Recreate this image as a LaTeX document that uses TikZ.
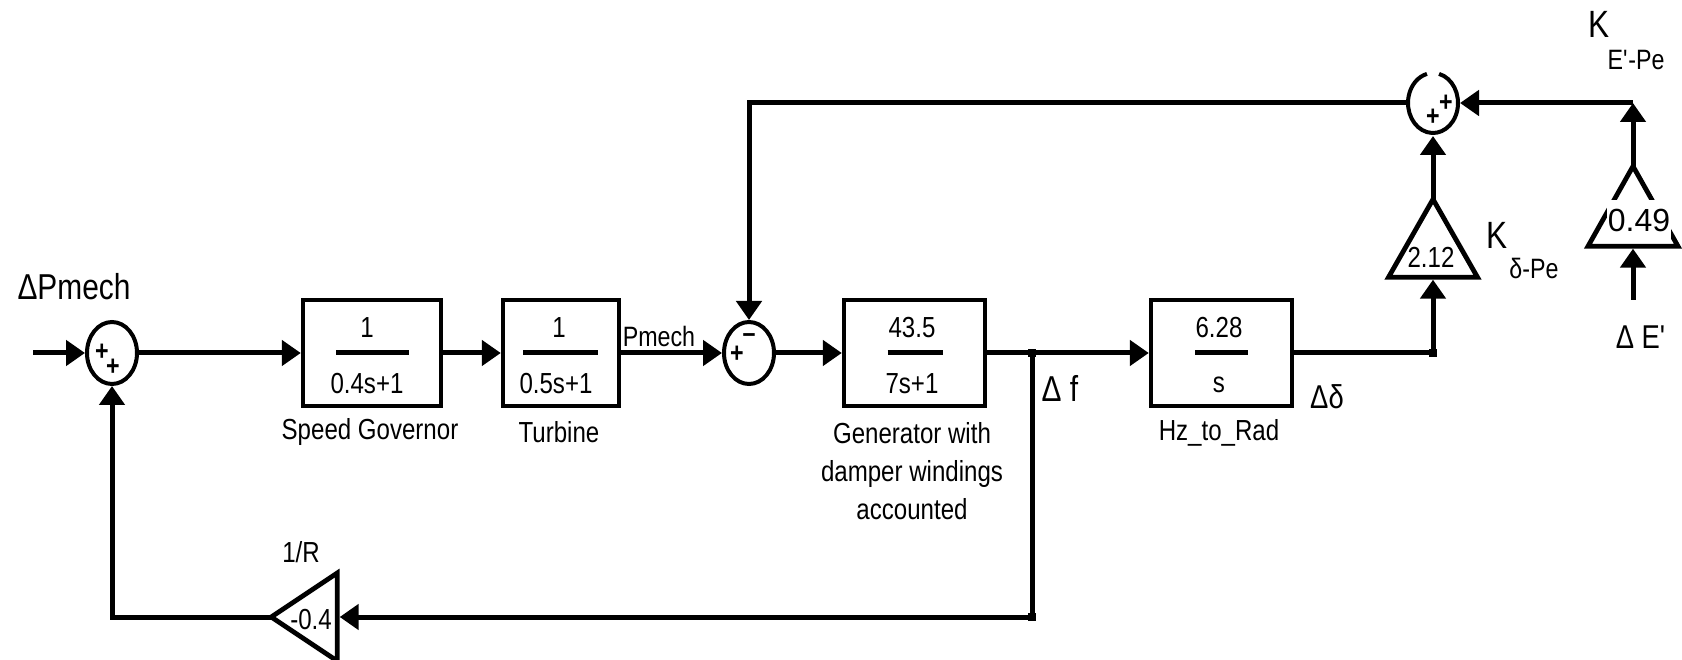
\documentclass[tikz,border=0pt]{standalone}
\usepackage{fontspec}
\setmainfont[FakeStretch=.83]{Liberation Sans}
\newfontfamily\widefont{Liberation Sans}
\usetikzlibrary{arrows.meta,shapes.geometric}

\newcommand{\lblsize}[1]{\fontsize{#1}{19}\selectfont}

\begin{document}
\begin{tikzpicture}
  [x=.5pt,y=.5pt,
   wire/.style={line width=2.5pt},
   wirearrow/.style={wire,-{Triangle[length=9.5pt,width=12.5pt]}},
   apexwire/.style={wirearrow,shorten <=-3pt},
   blockbox/.style={rectangle,draw,line width=2.2pt,minimum height=53pt,inner sep=0pt},
   sumnode/.style={ellipse,draw,line width=2pt,minimum width=25pt,minimum height=31pt,inner sep=0pt},
   dotnode/.style={rectangle,fill,minimum size=4pt,inner sep=0pt},
   gainnode/.style={isosceles triangle,isosceles triangle stretches,draw,line width=2.4pt,inner sep=0pt},
   lbl/.style={font=\lblsize{14.5},inner sep=0pt,align=center},
   biglbl/.style={font=\lblsize{18},inner sep=0pt},
   smalllbl/.style={font=\lblsize{14},inner sep=0pt},
   klbl/.style={font=\lblsize{19},inner sep=0pt},
   signnode/.style={font=\lblsize{14}\bfseries,inner sep=0pt}]
  \useasboundingbox (0,0) rectangle (1682,659);

  % blocks
  \node[blockbox,minimum width=69pt] (gov) at (372,306) {};
  \node[blockbox,minimum width=58pt] (turb) at (561,306) {};
  \node[blockbox,minimum width=70.5pt] (gen) at (914.5,306) {};
  \node[blockbox,minimum width=70.5pt] (hz) at (1221.5,306) {};

  % summing points
  \node[sumnode] (sumA) at (112,306) {};
  \node[sumnode] (sumB) at (749,306) {};
  \node[sumnode,draw=none] (sumC) at (1433,556) {};
  \draw[line width=2pt] ([shift={(76:25 and 30)}]sumC.center)
    arc[start angle=76,end angle=-256,x radius=25,y radius=30];

  % gains
  \node[gainnode,shape border rotate=90,anchor=apex,minimum height=39pt,minimum width=44.5pt] (gainD) at (1433,466) {};
  \node[gainnode,shape border rotate=90,anchor=apex,minimum height=40pt,minimum width=45pt] (gainE) at (1633,499) {};
  \node[gainnode,shape border rotate=180,anchor=apex,minimum height=33pt,minimum width=44pt] (gainR) at (265,42) {};

  % junctions and free ends
  \node[dotnode] (junF) at (1032,306) {};
  \node[dotnode] (junB) at (1032,42) {};
  \node[dotnode] (junD) at (1433,306) {};
  \coordinate (inP) at (33,306);
  \coordinate (inE) at (1633,359);
  \coordinate (corner) at (1633,556);

  % fraction bars
  \foreach \a/\b in {336/409,523/598,887.5/943,1195/1248}
    \draw[line width=2.5pt] (\a,306) -- (\b,306);

  % texts
  \foreach \name/\x/\y/\txt in {numA/367/331/1,denA/367/275/0.4s+1,numB/559/331/1,denB/556/275/0.5s+1,
      numC/912/331/43.5,denC/912/275/7s+1,numD/1219/331/6.28,denD/1219/274/s,
      nameA/370/227/Speed Governor,nameB/559/227/Turbine,nameD/1219/226/Hz\_to\_Rad,
      valR/311/39/-0.4,valD/1431/402/2.12}
    \node[lbl] (\name) at (\x,\y) {\txt};
  \node[lbl] (nameR) at (301,107) {1/R};
  \node[lbl] (nameC) at (912,188) {Generator with\\damper windings\\accounted};
  \node[smalllbl] (pmech) at (659,323) {Pmech};
  \node[biglbl] (dPmech) at (74,372) {ΔPmech};
  \node[biglbl] (dF) at (1060,271) {Δ f};
  \node[biglbl,font=\lblsize{16.5}] (dDelta) at (1327,262) {Δδ};
  \node[biglbl,font=\lblsize{16.5}] (dE) at (1641,322) {Δ E\textquotesingle};
  \node[klbl] (kD) at (1497,424) {K};
  \node[smalllbl] (kDsub) at (1534,391) {δ-Pe};
  \node[klbl] (kE) at (1599,635) {K};
  \node[smalllbl] (kEsub) at (1636,599) {E\textquotesingle-Pe};
  \node[font=\widefont\lblsize{16},fill=white,inner sep=0pt,minimum width=32pt,minimum height=21.5pt] (valE) at (1639,437) {\raisebox{2pt}{0.49}};

  % signs
  \foreach \name/\x/\y/\txt in {sA/102/307/+,sB/113/292/+,sC/737/305/+,sD/749/321/--,sE/1433/542/+,sF/1446/556/+}
    \node[signnode] (\name) at (\x,\y) {\txt};

  % connectors
  \foreach \from/\to in {inP/sumA,sumA/gov,gov/turb,turb/sumB,sumB/gen,junF/hz,junB/gainR}
    \draw[wirearrow] (\from) -- (\to);
  \foreach \from/\to in {gen/junF,hz/junD,junF/junB}
    \draw[wire] (\from) -- (\to);
  \draw[apexwire] (gainR.apex) -| (sumA.south);
  \draw[wirearrow] (sumC.west) -| (sumB.north);
  \draw[wirearrow] (junD) -- (gainD.lower side);
  \draw[apexwire] (gainD.apex) -- (sumC.south);
  \draw[wirearrow] (inE) -- (gainE.lower side);
  \draw[apexwire] (gainE.apex) -- (corner);
  \draw[wirearrow] (corner) -- (sumC.east);

\end{tikzpicture}
\end{document}
